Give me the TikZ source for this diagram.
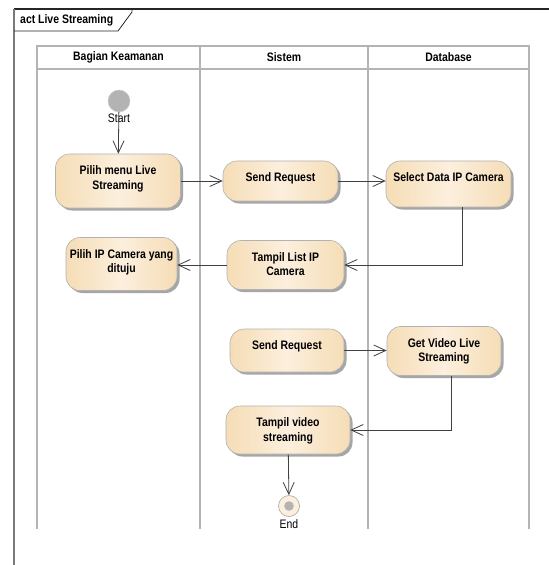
\documentclass[tikz,border=0pt]{standalone}
\usepackage{fontspec}
\usetikzlibrary{arrows.meta,shadows}
\newfontfamily\eafont[FakeStretch=0.85]{Liberation Sans}
\definecolor{garisjalur}{HTML}{B4B4B4}
\definecolor{garisbingkai}{HTML}{7A7A7A}
\definecolor{garispanah}{HTML}{404040}
\definecolor{krempinggir}{HTML}{F5DDB6}
\definecolor{kremtengah}{HTML}{FCEFDD}
\definecolor{abuawal}{HTML}{B3B3B3}
\newcommand{\kotak}[3]{\parbox[t][#2bp][t]{#1bp}{\centering\rule{0pt}{20.5bp}#3}}

\begin{document}
\begin{tikzpicture}[x=1bp,y=-1bp,
    font=\eafont\fontsize{12.3bp}{14.5bp}\selectfont,
    aksi/.style={draw=black!30, line width=0.6bp, rounded corners=14bp, inner sep=0pt,
        left color=krempinggir, right color=krempinggir, middle color=kremtengah,
        drop shadow={shadow xshift=2.5bp, shadow yshift=-2.5bp, fill=black!35, opacity=1}},
    judul/.style={font=\eafont\bfseries\fontsize{12.3bp}{14.5bp}\selectfont, inner sep=0pt},
    teks/.style={inner sep=0pt},
    jalur/.style={draw=garisjalur, line width=2bp},
    panah/.style={draw=garispanah, line width=0.8bp, -{Straight Barb[length=12bp,width=11bp]}}]
    \useasboundingbox[fill=white] (0,0) rectangle (549,565);
    \draw[black!85, line width=1.6bp] (14,9) -- (549,9);
    \draw[garisbingkai, line width=1.6bp] (14,9) -- (14,565);
    \draw[black!85, line width=0.8bp] (14,31) -- (118,31) -- (132,12) -- (132,9);
    \node[judul, anchor=west] (namaact) at (20,20) {act Live Streaming};
    \draw[jalur] (37,529) -- (37,46) -- (529,46) -- (529,529);
    \draw[jalur] (37,69) -- (529,69);
    \draw[jalur] (200,46) -- (200,529);
    \draw[jalur] (368,46) -- (368,529);
    \node[judul] (lajur1) at (118.5,57.5) {Bagian Keamanan};
    \node[judul] (lajur2) at (284,57.5) {Sistem};
    \node[judul] (lajur3) at (448.5,57.5) {Database};
    \node[circle, fill=abuawal, draw=black!20, minimum size=22bp, inner sep=0pt] (mulai) at (119,101) {};
    \node[aksi, font=\eafont\bfseries\fontsize{12.3bp}{14.5bp}\selectfont] (pilihmenu) at (118,181) {\kotak{125}{54}{Pilih menu Live\\Streaming}};
    \node[aksi, font=\eafont\bfseries\fontsize{12.3bp}{14.5bp}\selectfont] (kirim1) at (280.5,181) {\kotak{115}{40}{Send Request}};
    \node[aksi, font=\eafont\bfseries\fontsize{12.3bp}{14.5bp}\selectfont] (pilihdata) at (448.5,184) {\kotak{125}{46}{Select Data IP Camera}};
    \node[aksi, font=\eafont\bfseries\fontsize{12.3bp}{14.5bp}\selectfont] (tampillist) at (285.5,265) {\kotak{117}{49}{Tampil List IP\\Camera}};
    \node[aksi, font=\eafont\bfseries\fontsize{12.3bp}{14.5bp}\selectfont] (pilihip) at (121.5,264) {\kotak{111}{53}{Pilih IP Camera yang\\dituju}};
    \node[aksi, font=\eafont\bfseries\fontsize{12.3bp}{14.5bp}\selectfont] (kirim2) at (287,350.5) {\kotak{114}{43}{Send Request}};
    \node[aksi, font=\eafont\bfseries\fontsize{12.3bp}{14.5bp}\selectfont] (getvideo) at (444,351) {\kotak{114}{49}{Get Video Live\\Streaming}};
    \node[aksi, font=\eafont\bfseries\fontsize{12.3bp}{14.5bp}\selectfont] (tampilvideo) at (288,430) {\kotak{124}{48}{Tampil video\\streaming}};
    \node[circle, fill=kremtengah, draw=black!35, line width=0.6bp, minimum size=21bp, inner sep=0pt] (selesai) at (289,506) {};
    \fill[abuawal] (selesai) circle (4.8bp);
    \node[teks] (labelmulai) at (119,118) {Start};
    \node[teks] (labelselesai) at (289,524.5) {End};
    \draw[panah] (mulai) -- (pilihmenu);
    \draw[panah] (pilihmenu) -- (kirim1);
    \draw[panah] (kirim1) -- (kirim1 -| pilihdata.west);
    \draw[panah] ([xshift=14bp]pilihdata.south) |- (tampillist.east);
    \draw[panah] (tampillist) -- (tampillist -| pilihip.east);
    \draw[panah] (kirim2) -- (kirim2 -| getvideo.west);
    \draw[panah] ([xshift=7bp]getvideo.south) |- (tampilvideo.east);
    \draw[panah] (tampilvideo) -- (selesai);
\end{tikzpicture}
\end{document}
